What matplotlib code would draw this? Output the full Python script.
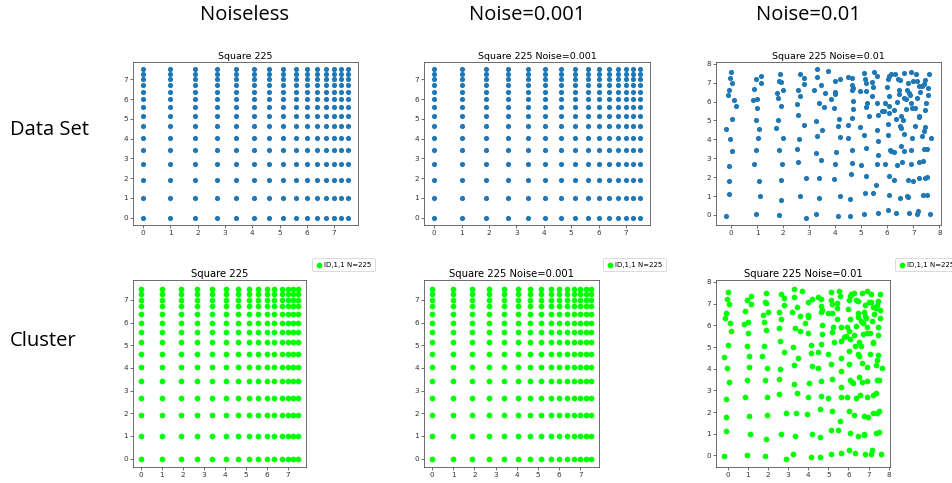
import matplotlib
matplotlib.use("Agg")
import matplotlib.pyplot as plt
from matplotlib.ticker import MultipleLocator
import numpy as np

# ---- data ----
grid_vals = [0, 1.0, 1.9, 2.69, 3.41, 4.05, 4.62, 5.14, 5.6, 6.0, 6.37, 6.71, 7.0, 7.26, 7.5]

noisy_pts = [
    # column ~0
    (0.00, 7.55), (-0.04, 7.23), (0.05, 7.00), (-0.06, 6.59), (-0.13, 6.33), (0.13, 6.09), (0.18, 5.76),
    (0.03, 5.08), (-0.18, 4.56), (-0.04, 4.02), (0.06, 3.39), (-0.08, 2.61), (-0.06, 1.77), (-0.08, 1.13), (-0.18, -0.03),
    # column ~1
    (1.15, 7.34), (0.98, 7.17), (1.14, 6.99), (0.87, 6.64), (0.84, 6.07), (1.01, 6.16), (1.00, 5.65),
    (0.98, 5.04), (1.06, 4.57), (1.05, 4.09), (0.98, 3.46), (0.87, 2.70), (1.06, 1.81), (1.11, 0.99), (0.97, 0.03),
    # column ~1.9
    (1.89, 7.48), (1.84, 7.08), (1.92, 7.03), (2.01, 6.61), (1.75, 6.47), (1.79, 6.17), (1.92, 5.79),
    (1.81, 5.04), (1.73, 4.59), (1.98, 4.05), (1.84, 3.46), (1.97, 2.71), (1.94, 1.86), (1.93, 0.78), (1.85, -0.02),
    # column ~2.7
    (2.65, 7.44), (2.79, 7.27), (2.79, 6.94), (2.57, 6.61), (2.67, 6.30), (2.54, 5.86), (2.59, 5.27),
    (2.82, 4.75), (2.61, 4.00), (2.53, 3.51), (2.57, 2.82), (2.90, 1.95), (2.65, 0.99), (2.89, -0.14),
    # column ~3.4
    (3.31, 7.70), (3.32, 7.29), (3.19, 6.61), (3.45, 6.85), (3.60, 6.43), (3.37, 5.90), (3.58, 5.72), (3.27, 4.99),
    (3.49, 4.49), (3.32, 4.16), (3.28, 3.30), (3.46, 2.89), (3.39, 1.95), (3.37, 0.90), (3.26, 0.05), (3.72, 7.60),
    # column ~4
    (3.86, 6.12), (3.99, 7.10), (4.17, 7.20), (3.99, 6.50), (3.99, 6.38), (3.97, 5.67), (4.13, 5.08),
    (4.12, 4.73), (4.17, 4.14), (4.05, 3.32), (3.99, 2.68), (3.94, 1.90), (4.17, 0.99), (4.12, -0.07),
    # column ~4.6
    (4.49, 7.29), (4.63, 7.23), (4.63, 6.90), (4.68, 6.73), (4.64, 6.61), (4.68, 6.02), (4.68, 5.62),
    (4.64, 5.15), (4.50, 4.77), (4.48, 4.05), (4.63, 3.43), (4.63, 2.73), (4.59, 2.14), (4.58, 0.83), (4.58, -0.05),
    # column ~5.15
    (5.11, 7.53), (5.15, 7.17), (5.20, 6.99), (4.97, 6.56), (5.19, 6.56), (5.24, 5.91), (5.19, 5.70),
    (5.29, 5.22), (4.97, 4.66), (5.12, 4.21), (5.19, 3.53), (5.01, 2.63), (5.19, 2.07), (5.14, 1.18), (5.11, 0.05),
    # column ~5.6
    (5.51, 7.57), (5.60, 7.36), (5.44, 6.78), (5.43, 6.30), (5.62, 5.91), (5.65, 5.27), (5.78, 5.48), (5.88, 5.51),
    (5.62, 4.49), (5.65, 3.90), (5.65, 3.18), (5.62, 2.70), (5.56, 1.57), (5.47, 1.17), (5.64, 0.12), (5.41, 7.04),
    # column ~6
    (6.01, 7.17), (6.06, 7.37), (6.13, 7.44), (6.00, 6.77), (6.06, 6.28), (5.93, 5.91), (6.05, 5.74),
    (6.06, 5.39), (6.02, 4.82), (6.02, 4.23), (6.10, 3.46), (5.93, 2.70), (6.05, 2.07), (6.07, 1.04), (6.02, 0.26),
    # column ~6.4
    (6.27, 5.57), (6.35, 5.06), (6.16, 3.39), (6.24, 3.34), (6.27, 1.86), (6.34, 0.10), (6.38, 2.63),
    (6.30, 7.48), (6.40, 7.17), (6.48, 7.13), (6.45, 6.59), (6.45, 6.40), (6.39, 5.98), (6.51, 5.25),
    (6.48, 4.70), (6.52, 4.61), (6.53, 3.63), (6.58, 2.78), (6.49, 0.92),
    # columns ~6.7-7
    (6.66, 7.51), (6.80, 6.96), (6.76, 6.61), (6.83, 6.43), (6.73, 6.12), (6.64, 6.19), (6.73, 5.60),
    (6.61, 5.04), (6.66, 4.28), (6.66, 3.39), (6.79, 1.84), (6.76, 1.01), (6.79, 0.94), (6.83, 0.09),
    (6.90, 7.57), (6.89, 6.35), (6.91, 5.91), (6.94, 5.67), (6.94, 4.09), (6.91, 3.44), (6.91, 2.68),
    (6.98, 1.77), (7.07, 4.70),
    # columns ~7.1-7.6
    (7.11, 7.46), (7.14, 7.10), (7.21, 6.83), (7.25, 6.52), (7.15, 6.21), (7.08, 5.65), (7.22, 5.25),
    (7.23, 5.18), (7.21, 2.78), (7.22, 1.95), (7.14, 0.05), (7.18, 0.23), (7.35, 6.82), (7.35, 4.17),
    (7.38, 2.87), (7.44, 1.98), (7.52, 2.03), (7.40, 3.48), (7.52, 3.48), (7.45, 4.64), (7.42, 4.42),
    (7.46, 7.12), (7.42, 6.92), (7.45, 5.57), (7.48, 5.91), (7.55, 6.73), (7.59, 7.46), (7.55, 6.35),
    (7.38, 1.03), (7.52, 1.06), (7.64, 0.05), (7.67, 4.05), (7.00, 7.10),
]

col_headers = ["Noiseless", "Noise=0.001", "Noise=0.01"]
row_headers = ["Data Set", "Cluster"]
titles = ["Square 225", "Square 225 Noise=0.001", "Square 225 Noise=0.01"]
legend_label = "ID,1,1 N=225"

gx, gy = np.meshgrid(grid_vals, grid_vals)
grid_x = gx.ravel()
grid_y = gy.ravel()
noisy_x = np.array([p[0] for p in noisy_pts])
noisy_y = np.array([p[1] for p in noisy_pts])
datasets = [(grid_x, grid_y), (grid_x, grid_y), (noisy_x, noisy_y)]

# ---- figure ----
W, H = 953, 483
fig = plt.figure(figsize=(W / 100, H / 100), dpi=100)

def ax_px(l, t, r, b):
    return fig.add_axes([l / W, 1 - b / H, (r - l) / W, (b - t) / H])

top_boxes = [(133, 62, 358, 225), (424, 62, 650, 225), (716, 62, 941, 225)]
bot_boxes = [(133, 280, 306, 467), (424, 280, 599, 467), (716, 280, 890, 467)]
leg_pos = [(309, 255), (600, 255), (892, 255)]

def style(ax):
    ax.tick_params(labelsize=5.2, length=2, width=0.5, pad=1.5, colors="#333333")
    for s in ax.spines.values():
        s.set_linewidth(0.6)
        s.set_color("#555555")
    ax.xaxis.set_major_locator(MultipleLocator(1))
    ax.yaxis.set_major_locator(MultipleLocator(1))

for i in range(3):
    x, y = datasets[i]
    ax = ax_px(*top_boxes[i])
    ax.scatter(x, y, s=14, color="#1f77b4", linewidths=0)
    ax.set_title(titles[i], fontsize=6.8, pad=2)
    style(ax)

    ax = ax_px(*bot_boxes[i])
    ax.scatter(x, y, s=17, color="#00ff00", linewidths=0, label=legend_label)
    ax.set_title(titles[i], fontsize=7.2, pad=2)
    style(ax)
    lx, ly = leg_pos[i]
    leg = ax.legend(loc="upper left", bbox_to_anchor=(lx / W, 1 - ly / H),
                    bbox_transform=fig.transFigure, fontsize=5, markerscale=1.0,
                    handletextpad=0.2, borderpad=0.5, handlelength=1.0,
                    framealpha=1, fancybox=True)
    leg.get_frame().set_linewidth(0.5)

header_x = [245, 527, 808]
for hx, txt in zip(header_x, col_headers):
    fig.text(hx / W, 1 - 15 / H, txt, ha="center", va="center", fontsize=14.5, family="Open Sans")
fig.text(10 / W, 1 - 130 / H, row_headers[0], ha="left", va="center", fontsize=14.5, family="Open Sans")
fig.text(10 / W, 1 - 341 / H, row_headers[1], ha="left", va="center", fontsize=14.5, family="Open Sans")

fig.savefig("out.png", dpi=100)
